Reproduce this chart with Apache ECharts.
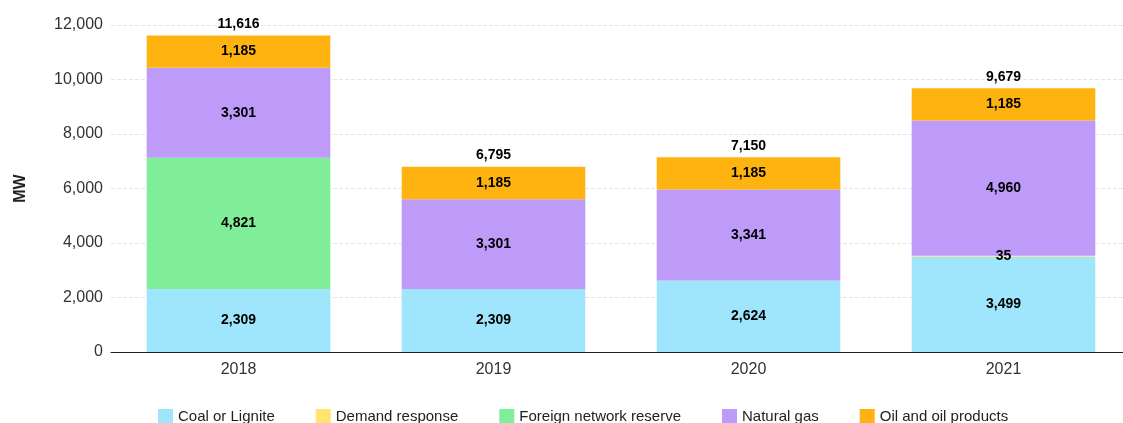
<!DOCTYPE html>
<html><head><meta charset="utf-8">
<script src="https://cdn.jsdelivr.net/npm/echarts@6/dist/echarts.min.js"></script>
<style>html,body{margin:0;padding:0;background:#fff;overflow:hidden;width:1123px;height:423px}#c{width:1135px;height:423px}</style>
</head><body><div id="c"></div>
<script>
const categories = ['2018', '2019', '2020', '2021'];
const coal = [2309, 2309, 2624, 3499];
const demand = [null, null, null, 35];
const foreign = [4821, null, null, null];
const gas = [3301, 3301, 3341, 4960];
const oil = [1185, 1185, 1185, 1185];
const totals = [11616, 6795, 7150, 9679];
const seriesNames = ['Coal or Lignite', 'Demand response', 'Foreign network reserve', 'Natural gas', 'Oil and oil products'];
const colors = ['#9fe5fb', '#ffe56e', '#80ee99', '#be9af9', '#ffb310'];
const FONT = '"Liberation Sans Narrow", "Liberation Sans", Arial, sans-serif';
const fmt = v => Number(v).toLocaleString('en-US');
const lbl = {show: true, position: 'inside', color: '#000', fontWeight: 'bold', fontSize: 14, fontFamily: FONT,
  formatter: p => (p.value == null || p.value === 0) ? '' : fmt(p.value)};
const mk = (name, data, color) => ({name, type: 'bar', stack: 's', data, barWidth: '72%',
  itemStyle: {color}, label: lbl, emphasis: {disabled: true}});
const chart = echarts.init(document.getElementById('c'));
chart.setOption({
  animation: false,
  textStyle: {fontFamily: FONT},
  grid: {left: 111, top: 25, width: 1020, height: 327, containLabel: false},
  legend: {data: seriesNames, bottom: -6, left: 153, itemWidth: 15, itemHeight: 15, itemGap: 41, icon: 'rect',
    textStyle: {fontSize: 15, color: '#222', fontFamily: FONT}},
  xAxis: {type: 'category', data: categories,
    axisLine: {lineStyle: {color: '#222'}}, axisTick: {show: false},
    axisLabel: {fontSize: 16, color: '#333', margin: 10, fontFamily: FONT}},
  yAxis: {type: 'value', min: 0, max: 12000, interval: 2000, name: 'MW', nameLocation: 'middle', nameGap: 82,
    nameTextStyle: {fontWeight: 'bold', fontSize: 16, color: '#222', fontFamily: FONT},
    axisLabel: {fontSize: 16, color: '#333', formatter: v => fmt(v), margin: 8, fontFamily: FONT},
    splitLine: {lineStyle: {color: '#e4e4e4', type: 'dashed'}}},
  series: [
    mk(seriesNames[0], coal, colors[0]),
    mk(seriesNames[1], demand, colors[1]),
    mk(seriesNames[2], foreign, colors[2]),
    mk(seriesNames[3], gas, colors[3]),
    mk(seriesNames[4], oil, colors[4]),
    {name: 'Total', type: 'scatter', data: totals, symbolSize: 1, silent: true,
      itemStyle: {color: 'rgba(0,0,0,0)', opacity: 1},
      label: {show: true, position: 'top', distance: 4, color: '#000', opacity: 1, fontWeight: 'bold', fontSize: 14, fontFamily: FONT,
        formatter: p => fmt(p.value)}}
  ]
});
</script></body></html>
